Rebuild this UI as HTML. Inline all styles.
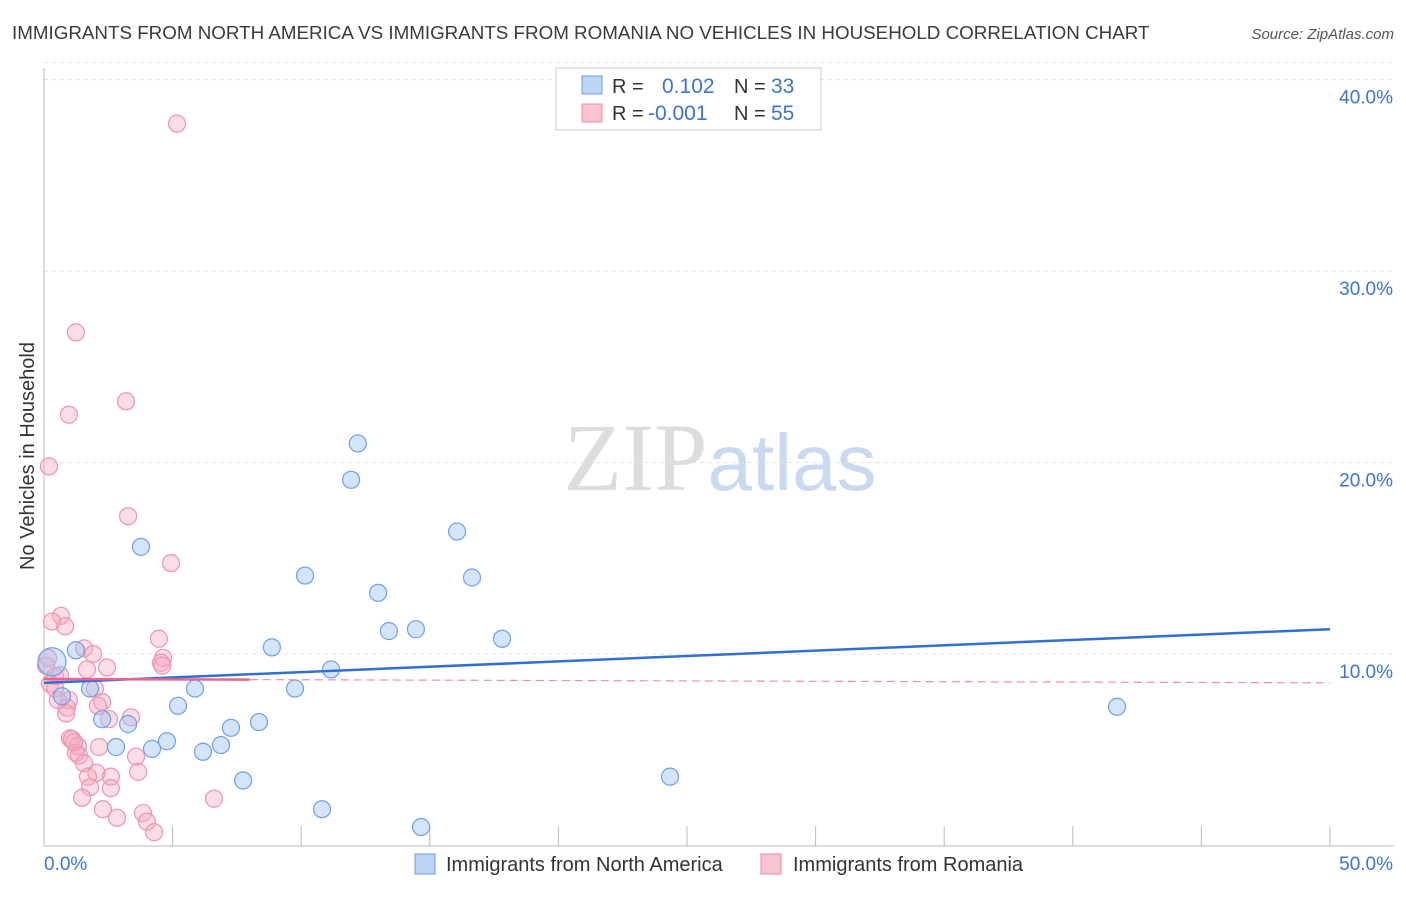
<!DOCTYPE html>
<html><head><meta charset="utf-8"><style>
body{margin:0;background:#fff;font-family:"Liberation Sans",sans-serif;}
</style></head><body>
<svg id="chart" width="1406" height="892" xmlns="http://www.w3.org/2000/svg" font-family="Liberation Sans, sans-serif">
<text x="12" y="39" font-size="18.8" fill="#3a3a3a">IMMIGRANTS FROM NORTH AMERICA VS IMMIGRANTS FROM ROMANIA NO VEHICLES IN HOUSEHOLD CORRELATION CHART</text>
<text x="1394" y="39" font-size="15" fill="#555" text-anchor="end" font-style="italic">Source: ZipAtlas.com</text>
<text x="720" y="490" font-size="96" text-anchor="middle"><tspan fill="#ddd" font-family="Liberation Serif, serif">ZIP</tspan><tspan fill="#c9d9f0" font-size="80">atlas</tspan></text>
<g id="grid"></g>
<g id="axes"></g>
<g id="pts"></g>
<g id="lines"></g>
<text transform="translate(34,456) rotate(-90)" font-size="20" fill="#333" text-anchor="middle">No Vehicles in Household</text>
<g>
<rect x="556" y="68" width="265" height="62" fill="#fff" stroke="#ccc"/>
<rect x="582" y="76" width="20" height="18" fill="#bcd4f6" stroke="#6a9de6"/>
<rect x="582" y="104" width="20" height="18" fill="#f9c4d2" stroke="#ee8aa6"/>
<text x="612" y="93" font-size="20" fill="#333">R =</text>
<text x="662" y="93" font-size="21" fill="#3d73d1">0.102</text>
<text x="734" y="93" font-size="20" fill="#333">N =</text>
<text x="771" y="93" font-size="21" fill="#3d73d1">33</text>
<text x="612" y="120" font-size="20" fill="#333">R =</text>
<text x="648" y="120" font-size="21" fill="#3d73d1">-0.001</text>
<text x="734" y="120" font-size="20" fill="#333">N =</text>
<text x="771" y="120" font-size="21" fill="#3d73d1">55</text>
</g>
<g>
<rect x="415" y="854" width="20" height="20" fill="#bcd4f6" stroke="#6a9de6"/>
<text x="446" y="871" font-size="20" fill="#333">Immigrants from North America</text>
<rect x="761" y="854" width="20" height="20" fill="#f9c4d2" stroke="#ee8aa6"/>
<text x="793" y="871" font-size="20" fill="#333">Immigrants from Romania</text>
</g>
</svg>
<script>
const yTicks=[10,20,30,40];
const xTickLabels=["0.0%","50.0%"];
const blueX=[3.77,12.2,11.94,16.06,10.15,16.64,12.99,13.41,14.46,17.81,8.86,11.16,5.87,9.76,1.79,1.24,0.31,0.70,5.21,41.72,2.26,3.27,8.36,7.27,4.78,6.88,2.8,4.2,6.18,7.74,24.34,10.81,14.66];
const blueY=[15.6,21.0,19.1,16.4,14.1,14.0,13.2,11.2,11.3,10.8,10.35,9.2,8.2,8.2,8.2,10.2,9.6,7.8,7.3,7.25,6.6,6.35,6.45,6.15,5.45,5.25,5.15,5.05,4.9,3.4,3.6,1.9,0.97];
const pinkX=[5.17,1.24,0.97,3.19,0.19,3.27,4.94,0.66,0.31,0.82,4.47,1.56,1.91,4.63,2.45,4.55,1.67,0.08,0.43,0.62,0.23,1.98,0.43,0.97,0.89,2.26,2.1,3.38,2.53,1.01,1.09,1.32,2.14,1.24,1.36,3.58,1.56,2.04,1.71,2.6,3.66,1.79,2.6,1.48,6.61,2.29,3.85,2.84,4.0,4.28,0.86,0.16,0.54,4.6,1.17];
const pinkY=[37.7,26.8,22.5,23.2,19.8,17.2,14.75,12.0,11.7,11.45,10.8,10.3,10.0,9.8,9.3,9.55,9.2,9.4,8.85,8.9,8.45,8.2,8.2,7.6,7.2,7.5,7.3,6.7,6.6,5.6,5.55,5.2,5.15,4.85,4.7,4.65,4.3,3.8,3.6,3.6,3.85,3.05,3.0,2.5,2.45,1.9,1.7,1.45,1.25,0.7,6.9,9.8,7.6,9.4,5.4];
const blueTrend=[8.5,11.3];
const pinkTrend=[8.7,8.5];
const X=v=>44+v*25.72, Y=v=>845.6-v*19.15;
const NS="http://www.w3.org/2000/svg";
function mk(t,a,p){const e=document.createElementNS(NS,t);for(const k in a)e.setAttribute(k,a[k]);p.appendChild(e);return e;}
const grid=document.getElementById('grid'),axes=document.getElementById('axes'),pts=document.getElementById('pts'),lines=document.getElementById('lines');
yTicks.forEach(t=>{const l=mk('line',{x1:44,x2:1394,y1:Y(t),y2:Y(t),stroke:'#e2e2e2','stroke-dasharray':'4,4'},grid);

const tx=mk('text',{x:1393,y:Y(t)+24,'font-size':19,fill:'#3d73d1','text-anchor':'end'},axes);tx.textContent=t.toFixed(1)+'%';
});
mk('line',{x1:44,x2:1394,y1:Y(40)-17,y2:Y(40)-17,stroke:'#e2e2e2','stroke-dasharray':'4,4'},grid);
const ax=mk('line',{x1:44,x2:44,y1:68,y2:846,stroke:'#bbb'},axes);
const bx=mk('line',{x1:44,x2:1394,y1:846,y2:846,stroke:'#bbb'},axes);
for(let i=1;i<=10;i++){const t=mk('line',{x1:X(i*5),x2:X(i*5),y1:826,y2:846,stroke:'#bbb'},axes);}
[[0,'start',44],[50,'end',1393]].forEach((d,i)=>{const t=mk('text',{x:d[2],y:870,'font-size':19,fill:'#3d73d1','text-anchor':d[1]},axes);t.textContent=xTickLabels[i];});
pinkX.forEach((x,i)=>{const c=mk('circle',{cx:X(x),cy:Y(pinkY[i]),r:8.5,fill:'rgba(246,170,192,0.4)',stroke:'#ef93ae','stroke-width':1.2},pts);});
blueX.forEach((x,i)=>{const c=mk('circle',{cx:X(x),cy:Y(blueY[i]),r:i==16?14:8.5,fill:'rgba(160,196,242,0.45)',stroke:'#6ea0e6','stroke-width':1.2},pts);});
let l=mk('line',{x1:X(0),x2:X(50),y1:Y(blueTrend[0]),y2:Y(blueTrend[1]),stroke:'#2f6fd6','stroke-width':2.5},lines);
const py=v=>Y(pinkTrend[0]+(pinkTrend[1]-pinkTrend[0])*v/50);
l=mk('line',{x1:X(0),x2:X(8),y1:py(0),y2:py(8),stroke:'#e8648e','stroke-width':2.5},lines);
l=mk('line',{x1:X(8),x2:X(50),y1:py(8),y2:py(50),stroke:'#ef8fab','stroke-width':1.2,'stroke-dasharray':'8,5'},lines);
</script>
</body></html>
